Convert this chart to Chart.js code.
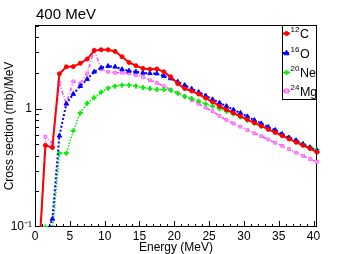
<!DOCTYPE html>
<html>
<head>
<meta charset="utf-8">
<script src="https://cdn.jsdelivr.net/npm/chart.js@4"></script>
<style>
  body { margin: 0; background: #fff; }
</style>
</head>
<body>
<canvas id="c" width="353" height="254"></canvas>
<script>
// energies (MeV) of the points
const energy = [0.5, 1.5, 2.5, 3.5, 4.5, 5.5, 6.5, 7.5, 8.5, 9.5, 10.5, 11.5, 12.5, 13.5, 14.5, 15.5, 16.5, 17.5, 18.5, 19.5,
  20.5, 21.5, 22.5, 23.5, 24.5, 25.5, 26.5, 27.5, 28.5, 29.5, 30.5, 31.5, 32.5, 33.5, 34.5, 35.5, 36.5, 37.5, 38.5, 39.5, 40.5];

// cross section (mb)/MeV
const c12 = [0.05, 0.49, 0.47, 1.97, 2.26, 2.27, 2.42, 2.63, 3.10, 3.15, 3.15, 3.05, 2.75, 2.46, 2.31, 2.19, 2.16, 2.17, 2.05, 1.86,
  1.63, 1.48, 1.41, 1.33, 1.23, 1.14, 1.05, 0.98, 0.92, 0.865, 0.81, 0.76, 0.715, 0.67, 0.63, 0.59, 0.555, 0.52, 0.49, 0.46, 0.43];
const o16 = [0.02, 0.08, 0.117, 0.59, 1.10, 1.33, 1.55, 1.78, 2.05, 2.22, 2.29, 2.26, 2.15, 2.09, 2.05, 2.01, 1.99, 1.98, 1.89, 1.80,
  1.69, 1.58, 1.47, 1.38, 1.29, 1.20, 1.12, 1.05, 0.98, 0.92, 0.86, 0.80, 0.75, 0.70, 0.66, 0.61, 0.57, 0.54, 0.50, 0.47, 0.44];
const ne20 = [null, 0.10, 0.09, 0.42, 0.42, 0.65, 0.92, 1.11, 1.24, 1.38, 1.49, 1.55, 1.58, 1.58, 1.55, 1.51, 1.48, 1.45, 1.45, 1.43,
  1.35, 1.27, 1.22, 1.16, 1.10, 1.05, 1.00, 0.95, 0.90, 0.85, 0.80, 0.755, 0.71, 0.67, 0.635, 0.60, 0.565, 0.535, 0.505, 0.475, 0.45];
const mg24 = [0.04, 0.58, 0.51, 1.65, 1.10, 1.70, 1.63, 1.99, 3.15, 2.15, 2.05, 2.01, 2.01, 1.99, 1.92, 1.86, 1.74, 1.65, 1.55, 1.45,
  1.36, 1.27, 1.18, 1.10, 1.02, 0.95, 0.87, 0.80, 0.75, 0.705, 0.66, 0.62, 0.585, 0.55, 0.515, 0.485, 0.455, 0.425, 0.40, 0.375, 0.355];

const isoMass = ['12', '16', '20', '24'];
const isoName = ['C', 'O', 'Ne', 'Mg'];

const xTicks = [0, 5, 10, 15, 20, 25, 30, 35, 40];
const xTickLabels = ['0', '5', '10', '15', '20', '25', '30', '35', '40'];
const yTicks = [0.1, 1];
const yTickLabels = ['10\u207B\u00B9', '1'];

const FONT = "'Liberation Sans', Arial, sans-serif";

function pts(vals) {
  return energy.map((e, i) => ({x: e, y: vals[i]}));
}

function drawMarker(ctx, ds, x, y) {
  const r = ds.pointRadius;
  ctx.save();
  ctx.fillStyle = ds.pointBackgroundColor;
  ctx.strokeStyle = ds.pointBorderColor;
  ctx.lineWidth = ds.pointBorderWidth;
  ctx.beginPath();
  if (ds.pointStyle === 'circle') {
    ctx.arc(x, y, r, 0, Math.PI * 2);
    ctx.fill(); ctx.stroke();
  } else if (ds.pointStyle === 'triangle') {
    ctx.moveTo(x, y - r * 1.1);
    ctx.lineTo(x + r, y + r * 0.7);
    ctx.lineTo(x - r, y + r * 0.7);
    ctx.closePath();
    ctx.fill(); ctx.stroke();
  } else if (ds.pointStyle === 'cross') {
    ctx.moveTo(x - r, y); ctx.lineTo(x + r, y);
    ctx.moveTo(x, y - r); ctx.lineTo(x, y + r);
    ctx.stroke();
  } else {
    ctx.rect(x - r, y - r, 2 * r, 2 * r);
    ctx.fill(); ctx.stroke();
  }
  ctx.restore();
}

const rootFrame = {
  id: 'rootFrame',
  beforeDatasetsDraw(chart) {
    const {ctx, chartArea: a, scales: {x, y}} = chart;
    ctx.save();
    ctx.strokeStyle = '#000';
    ctx.lineWidth = 1;
    ctx.beginPath();
    for (let e = 0; e <= 40; e++) {
      const px = Math.round(x.getPixelForValue(e)) + 0.5;
      const len = e % 5 === 0 ? 6 : 3;
      ctx.moveTo(px, a.bottom);
      ctx.lineTo(px, a.bottom - len);
    }
    const minor = [0.2, 0.3, 0.4, 0.5, 0.6, 0.7, 0.8, 0.9, 2, 3, 4, 5];
    minor.forEach(v => {
      const py = Math.round(y.getPixelForValue(v)) + 0.5;
      ctx.moveTo(a.left, py);
      ctx.lineTo(a.left + 4, py);
    });
    const py1 = Math.round(y.getPixelForValue(1)) + 0.5;
    ctx.moveTo(a.left, py1);
    ctx.lineTo(a.left + 7, py1);
    ctx.stroke();
    ctx.strokeRect(Math.round(a.left) + 0.5, Math.round(a.top) + 0.5,
      Math.round(a.width) - 1, Math.round(a.height) - 1);
    ctx.restore();
  },
  afterDraw(chart) {
    const {ctx, chartArea: a} = chart;
    ctx.save();
    // title
    ctx.fillStyle = '#000';
    ctx.font = '15px ' + FONT;
    ctx.textBaseline = 'alphabetic';
    ctx.fillText('400 MeV', 36, 19);

    // legend box
    const bx = 282, by = a.top, bw = a.right - 282, bh = 75;
    ctx.fillStyle = '#fff';
    ctx.fillRect(bx, by, bw, bh);
    ctx.strokeStyle = '#000';
    ctx.lineWidth = 1;
    ctx.strokeRect(bx + 0.5, by + 0.5, bw - 1, bh - 1);
    const rows = [33.5, 53, 72.5, 91];
    chart.data.datasets.forEach((ds, i) => {
      const ry = rows[i];
      ctx.save();
      ctx.strokeStyle = ds.borderColor;
      ctx.lineWidth = ds.borderWidth;
      ctx.setLineDash(ds.borderDash || []);
      ctx.beginPath();
      ctx.moveTo(283, ry);
      ctx.lineTo(290, ry);
      ctx.stroke();
      ctx.restore();
      drawMarker(ctx, ds, 286.5, ry);
      ctx.fillStyle = '#000';
      ctx.font = '8px ' + FONT;
      ctx.fillText(isoMass[i], 290.5, ry - 1.5);
      const w = ctx.measureText(isoMass[i]).width;
      ctx.font = '12.5px ' + FONT;
      ctx.fillText(isoName[i], 290.5 + w + 0.5, ry + 4.5);
    });
    ctx.restore();
  }
};

new Chart(document.getElementById('c'), {
  type: 'line',
  data: {
    datasets: [
      {
        label: isoMass[0] + isoName[0],
        data: pts(c12),
        borderColor: '#ff0000',
        borderWidth: 2,
        pointStyle: 'circle',
        pointRadius: 2,
        pointBackgroundColor: '#ff0000',
        pointBorderColor: '#ff0000',
        pointBorderWidth: 1
      },
      {
        label: isoMass[1] + isoName[1],
        data: pts(o16),
        borderColor: '#0000ff',
        borderWidth: 2,
        borderDash: [2, 2],
        pointStyle: 'triangle',
        pointRadius: 2.6,
        pointBackgroundColor: '#0000ff',
        pointBorderColor: '#0000ff',
        pointBorderWidth: 1
      },
      {
        label: isoMass[2] + isoName[2],
        data: pts(ne20),
        borderColor: '#00ee00',
        borderWidth: 1.5,
        borderDash: [1.5, 1.5],
        pointStyle: 'cross',
        pointRadius: 2.5,
        pointBackgroundColor: '#00ee00',
        pointBorderColor: '#00ee00',
        pointBorderWidth: 1.8
      },
      {
        label: isoMass[3] + isoName[3],
        data: pts(mg24),
        borderColor: '#ff44ff',
        borderWidth: 1.5,
        borderDash: [4, 2, 1, 2],
        pointStyle: 'rect',
        pointRadius: 2,
        pointBackgroundColor: '#ffa0ff',
        pointBorderColor: '#ff66ff',
        pointBorderWidth: 1
      }
    ]
  },
  options: {
    responsive: false,
    animation: false,
    devicePixelRatio: 1,
    clip: {left: 0, top: 0, right: 4, bottom: 0},
    layout: { padding: {top: 25, right: 36, left: 0, bottom: 0} },
    elements: { line: { tension: 0 } },
    plugins: {
      legend: { display: false },
      tooltip: { enabled: false }
    },
    scales: {
      x: {
        type: 'linear',
        min: 0,
        max: 40.5,
        grid: { display: false, drawTicks: false },
        border: { display: false },
        afterFit(s) { s.height = 27; },
        afterBuildTicks(s) { s.ticks = xTicks.map(v => ({value: v})); },
        ticks: {
          padding: 2,
          color: '#000',
          font: { family: FONT, size: 12 },
          maxRotation: 0,
          autoSkip: false,
          callback: (v) => xTickLabels[xTicks.indexOf(v)]
        },
        title: {
          display: true,
          text: 'Energy (MeV)',
          color: '#000',
          font: { family: FONT, size: 12 },
          padding: {top: 0, bottom: -1}
        }
      },
      y: {
        type: 'logarithmic',
        min: 0.1,
        max: 5.1,
        grid: { display: false, drawTicks: false },
        border: { display: false },
        afterFit(s) { s.width = 35; },
        afterBuildTicks(s) { s.ticks = yTicks.map(v => ({value: v})); },
        ticks: {
          padding: 3,
          color: '#000',
          font: { family: FONT, size: 12 },
          autoSkip: false,
          callback: (v) => yTickLabels[yTicks.indexOf(v)]
        },
        title: {
          display: true,
          text: 'Cross section (mb)/MeV',
          color: '#000',
          font: { family: FONT, size: 12 },
          padding: {top: 2, bottom: 0}
        }
      }
    }
  },
  plugins: [rootFrame]
});
</script>
</body>
</html>
